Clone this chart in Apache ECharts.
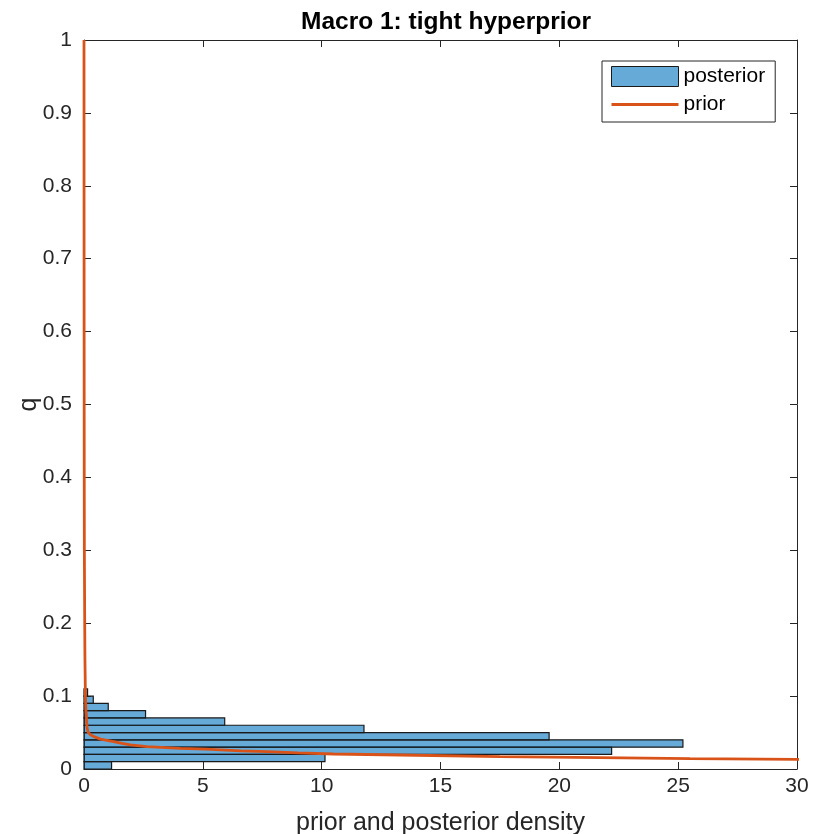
<!DOCTYPE html>
<html>
<head>
<meta charset="utf-8">
<title>Macro 1: tight hyperprior</title>
<script src="https://cdn.jsdelivr.net/npm/echarts@6/dist/echarts.min.js"></script>
<style>
  html, body { margin: 0; padding: 0; background: #ffffff; }
  #chart { width: 823px; height: 834px; }
</style>
</head>
<body>
<div id="chart"></div>
<script>
// Posterior histogram of q: bin edges (lower/upper) and density per bin
const binLower = [0.00, 0.01, 0.02, 0.03, 0.04, 0.05, 0.06, 0.07, 0.08, 0.09, 0.10];
const binUpper = [0.01, 0.02, 0.03, 0.04, 0.05, 0.06, 0.07, 0.08, 0.09, 0.10, 0.11];
const posteriorDensity = [1.16, 10.14, 22.2, 25.2, 19.57, 11.78, 5.92, 2.59, 1.02, 0.39, 0.15];

// Prior density evaluated along q
const priorQ = [1.0, 0.8, 0.6, 0.4, 0.3, 0.2, 0.15, 0.1, 0.08, 0.074, 0.065, 0.056, 0.05, 0.047,
  0.044, 0.041, 0.0375, 0.035, 0.033, 0.0306, 0.0284, 0.0272, 0.025, 0.0237, 0.022, 0.0206,
  0.0192, 0.0169, 0.0155, 0.0143, 0.0133, 0.0125];
const priorDensity = [0, 0.002, 0.005, 0.01, 0.015, 0.03, 0.04, 0.06, 0.08, 0.1, 0.11, 0.13, 0.18, 0.27,
  0.45, 0.69, 1.25, 1.6, 1.95, 2.65, 4.05, 5.1, 6.6, 7.7, 9.0, 10.5,
  13.3, 17.5, 21.7, 25.5, 30, 33];

// Axis ticks
const xTicks = { min: 0, max: 30, interval: 5 };
const yTicks = { min: 0, max: 1, interval: 0.1 };

const axisColor = '#262626';
const barFill = 'rgba(0,114,189,0.6)';
const priorColor = '#D95319';
const fontFamily = '"Liberation Sans", Arial, Helvetica, sans-serif';

const histData = posteriorDensity.map((v, i) => [v, binLower[i], binUpper[i]]);
const priorData = priorQ.map((q, i) => [priorDensity[i], q]);

const chart = echarts.init(document.getElementById('chart'), null, { renderer: 'canvas' });

const baseAxisLine = { show: true, onZero: false, lineStyle: { color: axisColor, width: 1 } };
const baseTick = { show: true, inside: true, length: 7, lineStyle: { color: axisColor, width: 1 } };

chart.setOption({
  animation: false,
  backgroundColor: '#ffffff',
  textStyle: { fontFamily: fontFamily },
  title: {
    text: 'Macro 1: tight hyperprior',
    left: 441, top: 5, textAlign: 'center',
    textStyle: { fontFamily: fontFamily, fontSize: 24.5, fontWeight: 'bold', color: '#000000' }
  },
  grid: { left: 84, right: 26, top: 40, bottom: 65, containLabel: false, outerBoundsMode: 'none' },
  legend: {
    orient: 'vertical',
    left: 602, top: 61,
    padding: [5, 10, 7, 9],
    itemWidth: 67, itemHeight: 20, itemGap: 7,
    borderColor: axisColor, borderWidth: 1,
    backgroundColor: '#ffffff',
    textStyle: { fontFamily: fontFamily, fontSize: 21, color: '#000000' },
    data: [
      { name: 'posterior', icon: 'rect',
        itemStyle: { color: barFill, borderColor: '#1a1a1a', borderWidth: 1 } },
      { name: 'prior', icon: 'path://M0,0 M0,8.6 L67,8.6 L67,11.4 L0,11.4 Z M67,20',
        itemStyle: { color: priorColor, borderWidth: 0 } }
    ]
  },
  xAxis: [
    {
      type: 'value', position: 'bottom',
      min: xTicks.min, max: xTicks.max, interval: xTicks.interval,
      axisLine: baseAxisLine, axisTick: baseTick, splitLine: { show: false },
      axisLabel: { fontSize: 21, color: axisColor, margin: 7, fontFamily: fontFamily },
      name: 'prior and posterior density', nameLocation: 'middle', nameGap: 42,
      nameMoveOverlap: false,
      nameTextStyle: { fontSize: 25, color: axisColor, fontFamily: fontFamily }
    },
    {
      type: 'value', position: 'top',
      min: xTicks.min, max: xTicks.max, interval: xTicks.interval,
      axisLine: baseAxisLine, axisTick: baseTick, splitLine: { show: false },
      axisLabel: { show: false }
    }
  ],
  yAxis: [
    {
      type: 'value', position: 'left',
      min: yTicks.min, max: yTicks.max, interval: yTicks.interval,
      axisLine: baseAxisLine, axisTick: baseTick, splitLine: { show: false },
      axisLabel: { fontSize: 21, color: axisColor, margin: 12, fontFamily: fontFamily,
        formatter: v => (Math.round(v * 10) / 10).toString() },
      name: 'q', nameLocation: 'middle', nameGap: 42, nameRotate: 90,
      nameMoveOverlap: false,
      nameTextStyle: { fontSize: 25, color: axisColor, fontFamily: fontFamily }
    },
    {
      type: 'value', position: 'right',
      min: yTicks.min, max: yTicks.max, interval: yTicks.interval,
      axisLine: baseAxisLine, axisTick: baseTick, splitLine: { show: false },
      axisLabel: { show: false }
    }
  ],
  series: [
    {
      name: 'posterior',
      type: 'custom',
      xAxisIndex: 0, yAxisIndex: 0,
      itemStyle: { color: barFill },
      renderItem: function (params, api) {
        const v = api.value(0), lo = api.value(1), hi = api.value(2);
        const p0 = api.coord([0, lo]);
        const p1 = api.coord([v, hi]);
        return {
          type: 'rect',
          shape: { x: p0[0], y: p1[1], width: p1[0] - p0[0], height: p0[1] - p1[1] },
          style: { fill: barFill, stroke: '#1a1a1a', lineWidth: 1.2 }
        };
      },
      encode: { x: 0, y: [1, 2] },
      data: histData,
      z: 2
    },
    {
      name: 'prior',
      type: 'line',
      xAxisIndex: 0, yAxisIndex: 0,
      data: priorData,
      showSymbol: false, symbol: 'none',
      clip: true,
      lineStyle: { color: priorColor, width: 2.8 },
      itemStyle: { color: priorColor },
      z: 3
    }
  ]
});
</script>
</body>
</html>
